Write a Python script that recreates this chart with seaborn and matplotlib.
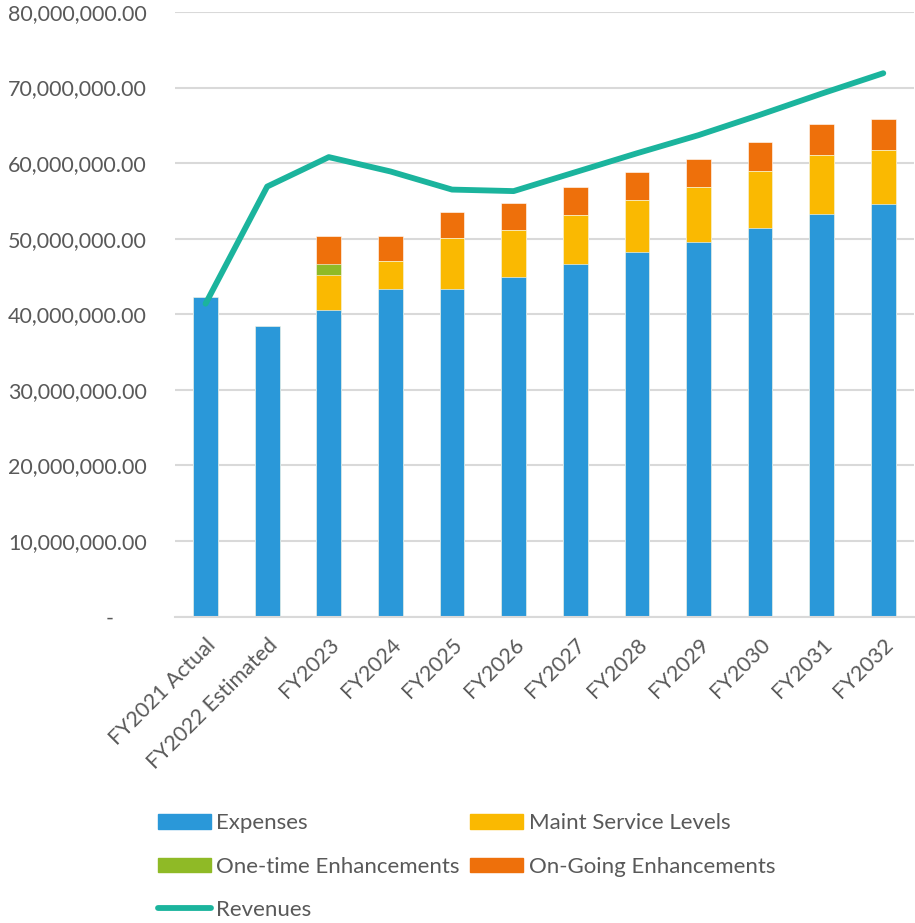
import numpy as np
import pandas as pd
import seaborn as sns
import matplotlib.pyplot as plt
from matplotlib.ticker import FuncFormatter
from matplotlib.patches import Patch
from matplotlib.lines import Line2D

# data (millions)
years = ["FY2021 Actual", "FY2022 Estimated", "FY2023", "FY2024", "FY2025", "FY2026",
         "FY2027", "FY2028", "FY2029", "FY2030", "FY2031", "FY2032"]
expenses = [42.3, 38.5, 40.6, 43.3, 43.3, 44.9, 46.6, 48.3, 49.5, 51.4, 53.3, 54.6]
maint = [0, 0, 4.6, 3.8, 6.8, 6.3, 6.5, 6.8, 7.3, 7.5, 7.8, 7.1]
one_time = [0, 0, 1.4, 0, 0, 0, 0, 0, 0, 0, 0, 0]
on_going = [0, 0, 3.8, 3.3, 3.4, 3.5, 3.7, 3.7, 3.8, 3.9, 4.1, 4.1]
revenues = [41.4, 56.9, 60.8, 58.9, 56.5, 56.3, 58.8, 61.3, 63.7, 66.4, 69.2, 71.9]

c_exp = "#2a98d9"
c_maint = "#fab901"
c_one = "#8fba26"
c_ongo = "#ee700b"
c_rev = "#1bb49d"
grey = "#595959"

df = pd.DataFrame({"year": years,
                   "expenses": np.array(expenses) * 1e6,
                   "maint": np.array(maint) * 1e6,
                   "one_time": np.array(one_time) * 1e6,
                   "on_going": np.array(on_going) * 1e6,
                   "revenues": np.array(revenues) * 1e6})
df["lvl1"] = df["expenses"]
df["lvl2"] = df["lvl1"] + df["maint"]
df["lvl3"] = df["lvl2"] + df["one_time"]
df["lvl4"] = df["lvl3"] + df["on_going"]
df["pos"] = np.arange(len(df))

sns.set_theme(style="white")
plt.rcParams["font.family"] = ["Lato", "DejaVu Sans"]

fig = plt.figure(figsize=(9.15, 9.23), dpi=100)
ax = fig.add_axes([0.191, 0.332, 0.808, 0.655])

ax.yaxis.grid(True, color="#d9d9d9", linewidth=1.5, zorder=0)
ax.set_axisbelow(True)

# stacked bars drawn as cumulative layers, top layer first
for col, c in [("lvl4", c_ongo), ("lvl3", c_one), ("lvl2", c_maint), ("lvl1", c_exp)]:
    sns.barplot(data=df, x="year", y=col, color=c, width=0.4, saturation=1,
                edgecolor="white", linewidth=0.4, ax=ax, zorder=2)

sns.lineplot(data=df, x="pos", y="revenues", color=c_rev, linewidth=4.2,
             solid_capstyle="round", solid_joinstyle="round", ax=ax, zorder=3)

ax.set_ylim(0, 80e6)
ax.set_xlim(-0.5, len(years) - 0.5)
ax.set_yticks(np.arange(0, 80e6 + 1, 10e6))
ax.yaxis.set_major_formatter(FuncFormatter(lambda v, p: "-      " if v == 0 else f"{v:,.2f}"))
ax.set_xticks(df["pos"])
ax.set_xticklabels(years, rotation=45, ha="right", rotation_mode="anchor")
ax.set_xlabel("")
ax.set_ylabel("")

ax.tick_params(axis="y", length=0, pad=20, labelsize=15.5, labelcolor=grey)
ax.tick_params(axis="x", length=0, pad=13, labelsize=15.5, labelcolor=grey)

for s in ["top", "right", "left"]:
    ax.spines[s].set_visible(False)
ax.spines["bottom"].set_color("#d9d9d9")
ax.spines["bottom"].set_linewidth(1.5)

handles = [Patch(color=c_exp, label="Expenses"),
           Patch(color=c_one, label="One-time Enhancements"),
           Line2D([0], [0], color=c_rev, linewidth=4.2, solid_capstyle="round", label="Revenues"),
           Patch(color=c_maint, label="Maint Service Levels"),
           Patch(color=c_ongo, label="On-Going Enhancements")]
leg = fig.legend(handles=handles, loc="upper left", bbox_to_anchor=(0.16, 0.131),
                 ncol=2, frameon=False, fontsize=16, handlelength=2.4, handleheight=0.62,
                 handletextpad=0.25, labelspacing=1.05, columnspacing=0.45, borderpad=0)
for t in leg.get_texts():
    t.set_color(grey)

fig.savefig("out.png", dpi=100)
